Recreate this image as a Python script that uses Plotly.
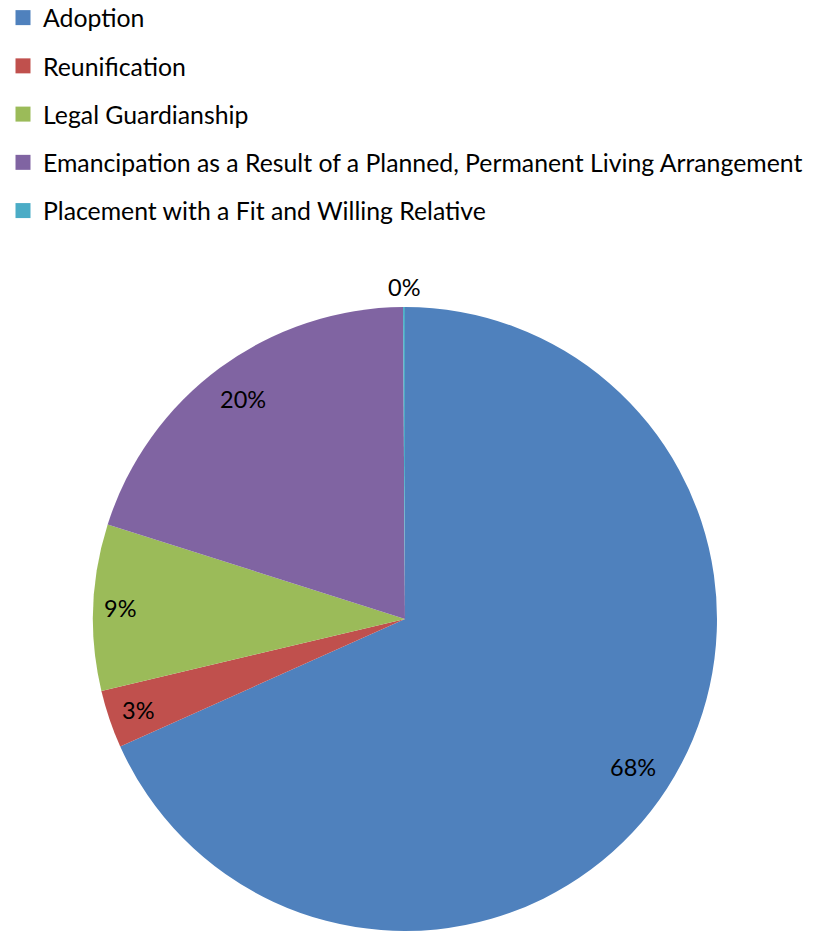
import math
import plotly.graph_objects as go

categories = [
    "Adoption",
    "Reunification",
    "Legal Guardianship",
    "Emancipation as a Result of a Planned, Permanent Living Arrangement",
    "Placement with a Fit and Willing Relative",
]
values = [68.3, 3.0, 8.6, 20.0, 0.1]
colors = ["#4F81BD", "#C0504D", "#9BBB59", "#8064A2", "#4BACC6"]

# label placement (fraction of radius) per slice - style only
label_r = [0.872, 0.904, 0.913, 0.877, 1.064]

W, H = 820, 932
CX, CY, R = 405, 619, 312
ml = CX - R
mt = CY - R
mr = W - ml - 2 * R
mb = H - mt - 2 * R
FONT = "Lato"

fig = go.Figure()
fig.add_trace(go.Pie(
    labels=categories, values=values, sort=False, direction="clockwise",
    rotation=0, marker=dict(colors=colors, line=dict(width=0)),
    textinfo="none", hoverinfo="label+percent", showlegend=False,
    domain=dict(x=[0, 1], y=[0, 1]),
))

# legend entries as dummy traces (outside the fixed axis range) so spacing can be controlled
for i, (c, col) in enumerate(zip(categories, colors)):
    fig.add_trace(go.Scatter(
        x=[-10], y=[-10], mode="markers", name=c, hoverinfo="skip",
        marker=dict(symbol="square", size=15, color=col),
        legendgroup=f"g{i}", showlegend=True,
    ))

total = sum(values)
cum = 0.0
annotations = []
for v, rf in zip(values, label_r):
    mid = (cum + v / 2) / total * 2 * math.pi
    cum += v
    dx = math.sin(mid) * R * rf
    dy = math.cos(mid) * R * rf
    pct = round(v / total * 100)
    annotations.append(dict(
        x=0.5 + dx / (2 * R), y=0.5 + dy / (2 * R), xref="paper", yref="paper",
        text=f"{pct}%", showarrow=False,
        font=dict(family=FONT, size=23.5, color="#000000"),
        xanchor="center", yanchor="middle",
    ))

legend_top_px = -5
legend_left_px = 3
fig.update_layout(
    width=W, height=H,
    margin=dict(l=ml, r=mr, t=mt, b=mb, autoexpand=False),
    paper_bgcolor="white", plot_bgcolor="white",
    xaxis=dict(visible=False, range=[0, 1], fixedrange=True),
    yaxis=dict(visible=False, range=[0, 1], fixedrange=True),
    annotations=annotations,
    legend=dict(
        xref="paper", yref="paper",
        x=(legend_left_px - ml) / (2 * R), y=1 + (mt - legend_top_px) / (2 * R),
        xanchor="left", yanchor="top",
        font=dict(family=FONT, size=24.8, color="#000000"),
        tracegroupgap=13, itemwidth=30, bgcolor="rgba(0,0,0,0)",
    ),
    font=dict(family=FONT),
)

fig.write_html("out.html", config={"displayModeBar": False},
               post_script="document.body.style.margin='0';")
